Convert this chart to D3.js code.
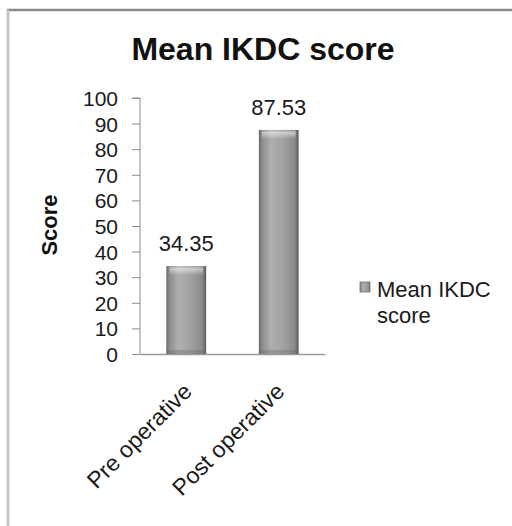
<!DOCTYPE html>
<html>
<head>
<meta charset="utf-8">
<script src="https://cdn.jsdelivr.net/npm/d3@7"></script>
<style>
  html, body { margin: 0; padding: 0; background: #fff; }
  svg { display: block; font-family: "Liberation Sans", Arial, sans-serif; }
</style>
</head>
<body>
<div id="chart"></div>
<script>
// Mean IKDC score, pre vs post operative
const categories = ['Pre operative', 'Post operative'];
const scores = [34.35, 87.53];
const yTicks = [0, 10, 20, 30, 40, 50, 60, 70, 80, 90, 100];
const seriesName = 'Mean IKDC score';

const width = 512, height = 526;
const plot = { left: 140, right: 325, top: 98, bottom: 354 };

const svg = d3.select('#chart').append('svg')
    .attr('width', width)
    .attr('height', height);

const defs = svg.append('defs');
const barGrad = defs.append('linearGradient')
    .attr('id', 'barGrad')
    .attr('x1', '0%').attr('x2', '100%').attr('y1', '0%').attr('y2', '0%');
[[0, '#666'], [0.07, '#8a8a8a'], [0.3, '#afafaf'], [0.6, '#a2a2a2'], [0.9, '#8a8a8a'], [1, '#5a5a5a']]
    .forEach(([o, c]) => barGrad.append('stop').attr('offset', o).attr('stop-color', c));

const topGrad = defs.append('linearGradient')
    .attr('id', 'topGrad')
    .attr('x1', '0%').attr('x2', '0%').attr('y1', '0%').attr('y2', '100%');
[[0, '#ffffff', 0.0], [0.3, '#ffffff', 0.5], [1, '#ffffff', 0]]
    .forEach(([o, c, a]) => topGrad.append('stop').attr('offset', o).attr('stop-color', c).attr('stop-opacity', a));

// frame
svg.append('line')
    .attr('x1', 7).attr('x2', width).attr('y1', 10).attr('y2', 10)
    .attr('stroke', '#8a8a8a').attr('stroke-width', 2.5);
svg.append('line')
    .attr('x1', 8).attr('x2', 8).attr('y1', 10).attr('y2', height)
    .attr('stroke', '#c4c4c4').attr('stroke-width', 3);

// title
svg.append('text')
    .attr('x', 263)
    .attr('y', 60)
    .attr('text-anchor', 'middle')
    .style('font-size', '32px')
    .style('font-weight', 'bold')
    .attr('fill', '#111')
    .text(seriesName);

const x = d3.scaleBand()
    .domain(categories)
    .range([plot.left, plot.right])
    .paddingInner(0.57)
    .paddingOuter(0.285);

const y = d3.scaleLinear()
    .domain([0, 100])
    .range([plot.bottom, plot.top]);

// y axis
const yAxis = svg.append('g')
    .attr('transform', `translate(${plot.left},0)`)
    .call(d3.axisLeft(y).tickValues(yTicks).tickSize(8).tickPadding(14));
yAxis.select('.domain').attr('stroke', '#8c8c8c').attr('d', `M-8,${plot.top}H0V${plot.bottom}`);
yAxis.selectAll('.tick line').attr('stroke', '#8c8c8c');
yAxis.selectAll('.tick text')
    .attr('fill', '#1a1a1a')
    .style('font-size', '21px')
    .attr('dy', '0.36em');

// x axis baseline
const xAxis = svg.append('g')
    .attr('transform', `translate(0,${plot.bottom})`)
    .call(d3.axisBottom(x).tickSize(0).tickFormat(''));
xAxis.select('.domain').attr('stroke', '#9a9a9a').attr('stroke-width', 1.5);

// category labels
svg.append('g').selectAll('text')
    .data(categories)
    .join('text')
    .attr('transform', d => `translate(${x(d) + x.bandwidth() / 2 + 7},${plot.bottom + 39}) rotate(-45)`)
    .attr('text-anchor', 'end')
    .style('font-size', '23px')
    .attr('fill', '#1a1a1a')
    .text(d => d);

// axis title
svg.append('text')
    .attr('transform', `translate(57,225) rotate(-90)`)
    .attr('text-anchor', 'middle')
    .style('font-size', '22px')
    .style('font-weight', 'bold')
    .attr('fill', '#111')
    .text('Score');

// bars
const bars = svg.append('g').selectAll('g')
    .data(categories.map((c, i) => ({ cat: c, value: scores[i] })))
    .join('g');

bars.append('rect')
    .attr('x', d => x(d.cat))
    .attr('y', d => y(d.value))
    .attr('width', x.bandwidth())
    .attr('height', d => y(0) - y(d.value))
    .attr('fill', 'url(#barGrad)');

bars.append('rect')
    .attr('x', d => x(d.cat) + 3)
    .attr('y', d => y(d.value))
    .attr('width', x.bandwidth() - 6)
    .attr('height', 9)
    .attr('fill', 'url(#topGrad)');

bars.append('rect')
    .attr('x', d => x(d.cat))
    .attr('y', y(0) - 4)
    .attr('width', x.bandwidth())
    .attr('height', 4)
    .attr('fill', '#6a6a6a')
    .attr('opacity', 0.35);

// value labels
bars.append('text')
    .attr('x', d => x(d.cat) + x.bandwidth() / 2)
    .attr('y', d => y(d.value) - 15)
    .attr('text-anchor', 'middle')
    .style('font-size', '22px')
    .attr('fill', '#1a1a1a')
    .text(d => d.value.toFixed(2));

// legend
const legend = svg.append('g').attr('transform', 'translate(360,282)');
legend.append('rect')
    .attr('width', 10).attr('height', 10)
    .attr('fill', 'url(#barGrad)')
    .attr('stroke', '#777').attr('stroke-width', 0.8);
legend.append('text')
    .attr('x', 17).attr('y', 15)
    .style('font-size', '22px')
    .attr('fill', '#1a1a1a')
    .selectAll('tspan')
    .data(['Mean IKDC', 'score'])
    .join('tspan')
    .attr('x', 17)
    .attr('dy', (d, i) => i === 0 ? 0 : 26)
    .text(d => d);
</script>
</body>
</html>
